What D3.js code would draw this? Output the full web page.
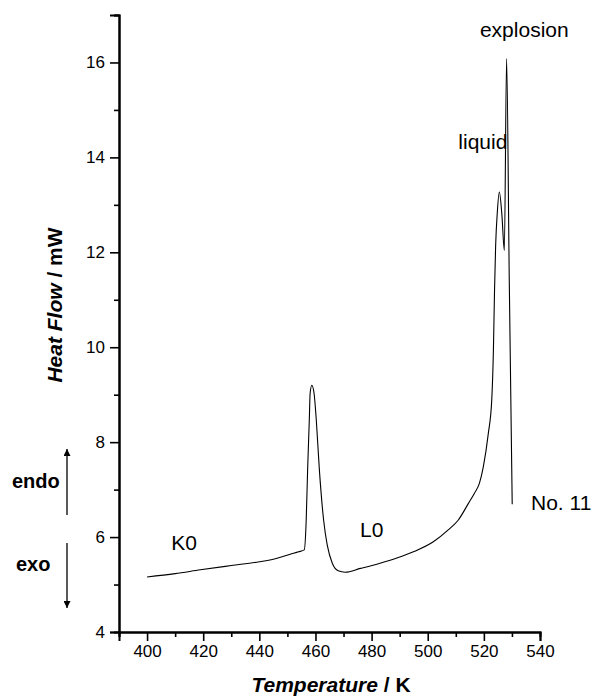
<!DOCTYPE html>
<html>
<head>
<meta charset="utf-8">
<script src="https://cdn.jsdelivr.net/npm/d3@7/dist/d3.min.js"></script>
<style>
  html, body { margin: 0; padding: 0; background: #fff; }
  svg { display: block; }
  text { font-family: "Liberation Sans", Arial, Helvetica, sans-serif; fill: #000; }
</style>
</head>
<body>
<svg id="chart" width="594" height="697"></svg>
<script>
// ---- data ----
const temperature = [400, 410, 419, 430, 440, 446, 451, 454, 456.0, 456.7, 457.2, 457.8, 458.1, 458.7, 459.5, 460.3, 461.4, 462.9, 464.2, 466.0, 468.1, 470.6, 476, 483, 489, 494.9, 502, 507.3, 510.9, 514.5, 516.6, 518.4, 519.8, 521.6, 522.8, 523.4, 523.8, 524.2, 524.8, 525.5, 526.4, 527.3, 528.1, 529.05, 530.1];
const heatFlow = [5.16, 5.23, 5.31, 5.40, 5.48, 5.55, 5.64, 5.69, 5.73, 6.36, 7.41, 8.46, 9.03, 9.20, 9.03, 8.46, 7.41, 6.36, 5.83, 5.45, 5.29, 5.26, 5.34, 5.45, 5.56, 5.69, 5.90, 6.15, 6.36, 6.71, 6.92, 7.13, 7.48, 8.19, 8.88, 9.94, 11.2, 12.15, 12.85, 13.27, 12.81, 12.04, 16.08, 11.41, 6.69];

const xMajorTicks = [400, 420, 440, 460, 480, 500, 520, 540];
const xMinorTicks = [390, 410, 430, 450, 470, 490, 510, 530];
const yMajorTicks = [4, 6, 8, 10, 12, 14, 16];
const yMinorTicks = [5, 7, 9, 11, 13, 15, 17];

const annotations = [
  { text: "K0", t: 408.6, hf: 5.73 },
  { text: "L0", t: 475.9, hf: 6.0 },
  { text: "liquid", t: 510.9, hf: 14.17 },
  { text: "explosion", t: 518.6, hf: 16.53 },
  { text: "No. 11", t: 536.8, hf: 6.57 }
];

// ---- layout ----
const svg = d3.select("#chart");
const margin = { left: 119, top: 15, right: 54, bottom: 65 };
const W = 594, H = 697;
const innerW = W - margin.left - margin.right; // 421
const innerH = H - margin.top - margin.bottom;  // 617

const x = d3.scaleLinear().domain([390, 540]).range([margin.left, margin.left + innerW]);
const y = d3.scaleLinear().domain([4, 17]).range([margin.top + innerH, margin.top]);

// axes
const xAxisMajor = d3.axisBottom(x).tickValues(xMajorTicks).tickSize(9).tickPadding(4).tickFormat(d3.format("d"));
const xAxisMinor = d3.axisBottom(x).tickValues(xMinorTicks).tickSize(5).tickFormat("");
const yAxisMajor = d3.axisLeft(y).tickValues(yMajorTicks).tickSize(9).tickPadding(5).tickFormat(d3.format("d"));
const yAxisMinor = d3.axisLeft(y).tickValues(yMinorTicks).tickSize(5).tickFormat("");

function styleAxis(g) {
  g.selectAll(".domain").attr("stroke", "#000").attr("stroke-width", 2);
  g.selectAll(".tick line").attr("stroke", "#000").attr("stroke-width", 1.6);
  g.selectAll(".tick text").style("font-size", "17px").style("font-family", '"Liberation Sans", Arial, sans-serif').attr("fill", "#000");
}

const gx = svg.append("g").attr("transform", `translate(0,${y(4)})`);
gx.call(xAxisMajor); styleAxis(gx);
const gxm = svg.append("g").attr("transform", `translate(0,${y(4)})`);
gxm.call(xAxisMinor); styleAxis(gxm);

const gy = svg.append("g").attr("transform", `translate(${x(390)},0)`);
gy.call(yAxisMajor); styleAxis(gy);
const gym = svg.append("g").attr("transform", `translate(${x(390)},0)`);
gym.call(yAxisMinor); styleAxis(gym);

// curve
const pts = temperature.map((t, i) => [t, heatFlow[i]]);
const line = d3.line().x(d => x(d[0])).y(d => y(d[1])).curve(d3.curveMonotoneX);
svg.append("path").datum(pts)
  .attr("d", line)
  .attr("fill", "none")
  .attr("stroke", "#000")
  .attr("stroke-width", 1.1)
  .attr("stroke-linejoin", "round");

// annotations
svg.selectAll("text.anno").data(annotations).enter().append("text")
  .attr("class", "anno")
  .attr("x", d => x(d.t))
  .attr("y", d => y(d.hf))
  .style("font-size", "21px")
  .text(d => d.text);

// axis titles
const xt = svg.append("text")
  .attr("x", 331).attr("y", 692)
  .attr("text-anchor", "middle")
  .style("font-size", "21px").style("font-weight", "bold");
xt.append("tspan").style("font-style", "italic").text("Temperature");
xt.append("tspan").text(" / K");

const yt = svg.append("text")
  .attr("transform", "translate(62,305) rotate(-90)")
  .attr("text-anchor", "middle")
  .style("font-size", "21px").style("font-weight", "bold");
yt.append("tspan").style("font-style", "italic").text("Heat Flow");
yt.append("tspan").text(" / mW");

// endo / exo
svg.append("text").attr("x", 12).attr("y", 488).style("font-size", "20px").style("font-weight", "bold").text("endo");
svg.append("text").attr("x", 16).attr("y", 571).style("font-size", "20px").style("font-weight", "bold").text("exo");

const defs = svg.append("defs");
defs.append("marker").attr("id", "ah").attr("viewBox", "0 0 10 10")
  .attr("refX", 10).attr("refY", 5).attr("markerWidth", 13).attr("markerHeight", 7)
  .attr("markerUnits", "userSpaceOnUse").attr("orient", "auto")
  .append("path").attr("d", "M0,0 L10,5 L0,10 Z").attr("fill", "#000");

svg.append("line").attr("x1", 67).attr("y1", 515).attr("x2", 67).attr("y2", 449)
  .attr("stroke", "#000").attr("stroke-width", 1.3).attr("marker-end", "url(#ah)");
svg.append("line").attr("x1", 67).attr("y1", 543).attr("x2", 67).attr("y2", 608)
  .attr("stroke", "#000").attr("stroke-width", 1.3).attr("marker-end", "url(#ah)");
</script>
</body>
</html>
